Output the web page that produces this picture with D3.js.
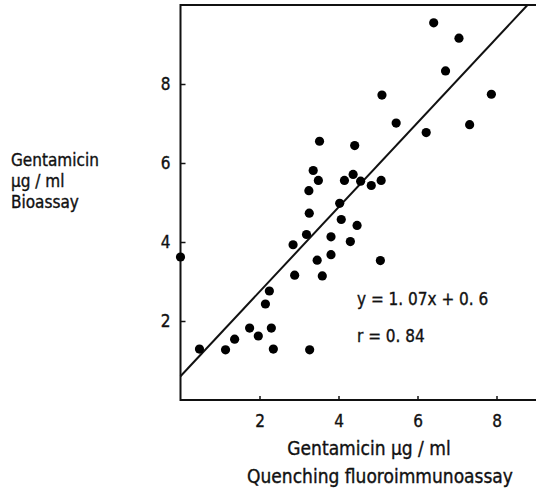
<!DOCTYPE html>
<html>
<head>
<meta charset="utf-8">
<script src="https://cdn.jsdelivr.net/npm/d3@7"></script>
<style>
  body { margin: 0; background: #fff; }
  text { font-family: "DejaVu Sans Condensed", "DejaVu Sans", sans-serif; fill: #111; stroke: #111; stroke-width: 0.35px; }
</style>
</head>
<body>
<div id="chart"></div>
<script>
// quenching fluoroimmunoassay (x) vs bioassay (y), µg/ml
const fia = [0, 0.48, 1.14, 1.37, 1.75, 1.97, 2.30, 2.35, 2.15, 2.25, 3.27, 2.89, 3.59, 3.46, 3.81,
  2.85, 3.19, 3.81, 4.30, 4.47, 4.07, 4.03, 3.26, 3.25, 3.49, 3.36, 4.15, 4.37, 4.56, 3.52, 4.41,
  4.83, 5.08, 6.22, 5.06, 6.41, 7.05, 6.71, 5.10, 7.87, 5.46, 7.32];
const bio = [3.62, 1.29, 1.27, 1.54, 1.82, 1.62, 1.82, 1.29, 2.43, 2.76, 1.27, 3.16, 3.14, 3.54, 3.68,
  3.93, 4.19, 4.13, 4.01, 4.42, 4.57, 4.98, 4.73, 5.30, 5.56, 5.81, 5.56, 5.71, 5.54, 6.55, 6.44,
  5.43, 5.56, 6.77, 3.53, 9.55, 9.16, 8.33, 7.72, 7.74, 7.01, 6.97];
const xTicks = [2, 4, 6, 8];
const yTicks = [2, 4, 6, 8];
const slope = 1.07, intercept = 0.6;

const width = 537, height = 496;
const svg = d3.select("#chart").append("svg")
  .attr("width", width)
  .attr("height", height);

const x = d3.scaleLinear().domain([0, 9]).range([180.5, 536]);
const y = d3.scaleLinear().domain([0, 10]).range([400, 5]);

// frame: left, bottom and top edges (right edge falls off the page)
svg.append("path")
  .attr("d", `M${x(9)},${y(10)}H${x(0)}V${y(0)}H${x(9)}`)
  .attr("fill", "none").attr("stroke", "#111").attr("stroke-width", 2);

const xAxis = svg.append("g")
  .attr("transform", `translate(0,${y(0)})`)
  .call(d3.axisBottom(x).tickValues(xTicks).tickSize(-4).tickPadding(15));
const yAxis = svg.append("g")
  .attr("transform", `translate(${x(0)},0)`)
  .call(d3.axisLeft(y).tickValues(yTicks).tickSize(-5).tickPadding(10));

[xAxis, yAxis].forEach(g => {
  g.select(".domain").remove();
  g.selectAll("line").attr("stroke", "#111").attr("stroke-width", 1.5);
  g.selectAll("text")
    .style("font-family", '"DejaVu Sans Condensed", "DejaVu Sans", sans-serif')
    .style("font-size", "17px")
    .attr("fill", "#111");
});

// regression line
const xEnd = (10 - intercept) / slope;
svg.append("line")
  .attr("x1", x(0)).attr("y1", y(intercept))
  .attr("x2", x(xEnd)).attr("y2", y(slope * xEnd + intercept))
  .attr("stroke", "#111").attr("stroke-width", 2);

svg.selectAll(".dot")
  .data(fia.map((d, i) => [d, bio[i]]))
  .enter()
  .append("circle")
  .attr("class", "dot")
  .attr("cx", d => x(d[0]))
  .attr("cy", d => y(d[1]))
  .attr("r", 4.6)
  .attr("fill", "#000");

// equation
svg.append("text").attr("x", 357).attr("y", 305)
  .style("font-size", "17px").text("y = 1. 07x + 0. 6");
svg.append("text").attr("x", 357).attr("y", 342)
  .style("font-size", "17px").text("r = 0. 84");

// y title
const yTitle = svg.append("text").attr("x", 11).attr("y", 166).style("font-size", "17px");
["Gentamicin", "µg / ml", "Bioassay"].forEach((t, i) => {
  yTitle.append("tspan").attr("x", 11).attr("dy", i ? 21 : 0).text(t);
});

// x title
svg.append("text").attr("x", 369).attr("y", 455)
  .attr("text-anchor", "middle").style("font-size", "19px").text("Gentamicin µg / ml");
svg.append("text").attr("x", 380).attr("y", 483)
  .attr("text-anchor", "middle").style("font-size", "19px").text("Quenching fluoroimmunoassay");
</script>
</body>
</html>
